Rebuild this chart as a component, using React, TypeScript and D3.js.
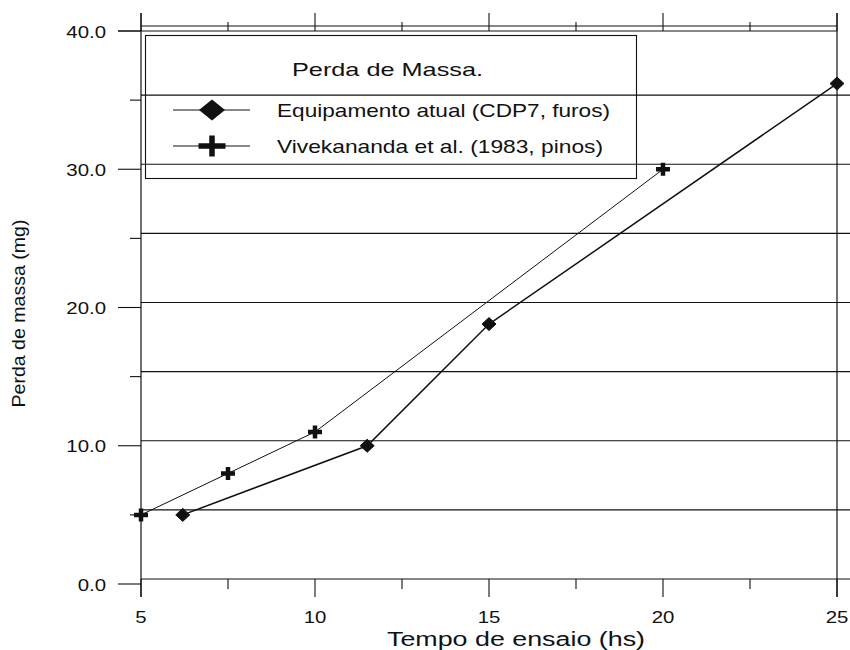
import React from "react";
import * as d3 from "d3";

// Perda de massa vs tempo de ensaio
const equipX = [6.2, 11.5, 15, 25];
const equipY = [5, 10, 18.8, 36.2];
const vivekX = [5, 7.5, 10, 20];
const vivekY = [5, 8, 11, 30];

const xMajor = [5, 10, 15, 20, 25];
const xMinor = [7.5, 12.5, 17.5, 22.5];
const yMajor = [0, 10, 20, 30, 40];
const yMinor = [5, 15, 25, 35];
const gridVals = [0, 5, 10, 15, 20, 25, 30, 35, 40];

const legendTitle = "Perda de Massa.";
const seriesNames = ["Equipamento atual (CDP7, furos)", "Vivekananda et al. (1983, pinos)"];
const xTitle = "Tempo de ensaio (hs)";
const yTitle = "Perda de massa (mg)";

const FONT = "'Liberation Sans', Arial, Helvetica, sans-serif";
const INK = "#111";

const diamond = (w: number, h: number) =>
  `M0,${-h / 2}L${w / 2},0L0,${h / 2}L${-w / 2},0Z`;
const plus = (w: number, h: number, t: number) =>
  `M${-t / 2},${-h / 2}H${t / 2}V${-t / 2}H${w / 2}V${t / 2}H${t / 2}V${h / 2}H${-t / 2}V${t / 2}H${-w / 2}V${-t / 2}H${-t / 2}Z`;

const App = () => {
  const svgRef = React.useRef<SVGSVGElement>(null);

  React.useEffect(() => {
    const x = d3.scaleLinear().domain([5, 25]).range([141, 837]);
    const y = d3.scaleLinear().domain([0, 40]).range([584, 31]);
    const gy = (v: number) => y(v) - 5; // grid sits a little above the tick marks
    const top = 13;
    const bottom = 597;

    const svg = d3.select(svgRef.current);
    svg.selectAll("*").remove();
    const g = svg.append("g");

    // horizontal grid lines
    g.selectAll(".grid")
      .data(gridVals)
      .enter()
      .append("line")
      .attr("x1", x(5))
      .attr("x2", (d) => (d === 40 ? x(25) : 850))
      .attr("y1", (d) => gy(d))
      .attr("y2", (d) => gy(d))
      .attr("stroke", INK)
      .attr("stroke-width", 1.1);

    // top axis line at 40
    g.append("line")
      .attr("x1", 118).attr("x2", x(25))
      .attr("y1", y(40)).attr("y2", y(40))
      .attr("stroke", INK).attr("stroke-width", 1.1);

    // vertical frame
    [5, 25].forEach((v) => {
      g.append("line")
        .attr("x1", x(v)).attr("x2", x(v))
        .attr("y1", top).attr("y2", bottom)
        .attr("stroke", INK).attr("stroke-width", 1.2);
    });

    // y ticks
    g.selectAll(".ytM").data(yMajor).enter().append("line")
      .attr("x1", x(5) - 23).attr("x2", x(5))
      .attr("y1", (d) => y(d)).attr("y2", (d) => y(d))
      .attr("stroke", INK).attr("stroke-width", 1.1);
    g.selectAll(".ytm").data(yMinor).enter().append("line")
      .attr("x1", x(5) - 11).attr("x2", x(5))
      .attr("y1", (d) => y(d)).attr("y2", (d) => y(d))
      .attr("stroke", INK).attr("stroke-width", 1.1);

    // x ticks, bottom and top
    const base = gy(0);
    g.selectAll(".xtM").data(xMajor).enter().append("line")
      .attr("x1", (d) => x(d)).attr("x2", (d) => x(d))
      .attr("y1", base).attr("y2", base + 18)
      .attr("stroke", INK).attr("stroke-width", 1.1);
    g.selectAll(".xtm").data(xMinor).enter().append("line")
      .attr("x1", (d) => x(d)).attr("x2", (d) => x(d))
      .attr("y1", base).attr("y2", base + 10)
      .attr("stroke", INK).attr("stroke-width", 1.1);
    g.selectAll(".xtMt").data(xMajor).enter().append("line")
      .attr("x1", (d) => x(d)).attr("x2", (d) => x(d))
      .attr("y1", y(40)).attr("y2", y(40) - 18)
      .attr("stroke", INK).attr("stroke-width", 1.1);
    g.selectAll(".xtmt").data(xMinor).enter().append("line")
      .attr("x1", (d) => x(d)).attr("x2", (d) => x(d))
      .attr("y1", y(40)).attr("y2", y(40) - 9)
      .attr("stroke", INK).attr("stroke-width", 1.1);

    // tick labels
    g.selectAll(".yl").data(yMajor).enter().append("text")
      .attr("transform", (d) => `translate(106,${y(d) + 6.5}) scale(1.2,1)`)
      .attr("text-anchor", "end")
      .attr("font-family", FONT).attr("font-size", 17).attr("fill", INK)
      .text((d) => d.toFixed(1));
    g.selectAll(".xl").data(xMajor).enter().append("text")
      .attr("transform", (d) => `translate(${x(d)},${base + 44}) scale(1.2,1)`)
      .attr("text-anchor", "middle")
      .attr("font-family", FONT).attr("font-size", 17).attr("fill", INK)
      .text((d) => String(d));

    // axis titles
    g.append("text")
      .attr("x", 387).attr("y", 646)
      .attr("textLength", 258).attr("lengthAdjust", "spacingAndGlyphs")
      .attr("font-family", FONT).attr("font-size", 20).attr("fill", INK)
      .text(xTitle);
    g.append("text")
      .attr("transform", `translate(25,${(y(0) + y(40)) / 2 + 6}) rotate(-90)`)
      .attr("text-anchor", "middle")
      .attr("textLength", 188).attr("lengthAdjust", "spacingAndGlyphs")
      .attr("font-family", FONT).attr("font-size", 18).attr("fill", INK)
      .text(yTitle);

    // series lines
    const line = d3.line<[number, number]>().x((d) => x(d[0])).y((d) => y(d[1]));
    const vivek = vivekX.map((v, i) => [v, vivekY[i]] as [number, number]);
    const equip = equipX.map((v, i) => [v, equipY[i]] as [number, number]);
    g.append("path").attr("d", line(vivek)).attr("fill", "none")
      .attr("stroke", INK).attr("stroke-width", 1);
    g.append("path").attr("d", line(equip)).attr("fill", "none")
      .attr("stroke", INK).attr("stroke-width", 1.5);

    // markers
    g.selectAll(".mp").data(vivek).enter().append("path")
      .attr("transform", (d) => `translate(${x(d[0])},${y(d[1])})`)
      .attr("d", plus(14, 13, 4.5)).attr("fill", INK);
    g.selectAll(".md").data(equip).enter().append("path")
      .attr("transform", (d) => `translate(${x(d[0])},${y(d[1])})`)
      .attr("d", diamond(14, 13)).attr("fill", INK)
      .attr("stroke", INK).attr("stroke-width", 1).attr("stroke-linejoin", "round");

    // legend
    g.append("rect")
      .attr("x", 145.5).attr("y", 35.5).attr("width", 491).attr("height", 143)
      .attr("fill", "none").attr("stroke", INK).attr("stroke-width", 1.1);
    g.append("text")
      .attr("x", 292).attr("y", 76)
      .attr("textLength", 191).attr("lengthAdjust", "spacingAndGlyphs")
      .attr("font-family", FONT).attr("font-size", 19).attr("fill", INK)
      .text(legendTitle);
    const rows = [110, 146];
    const lens = [333, 326];
    rows.forEach((ry, i) => {
      g.append("line").attr("x1", 173).attr("x2", 250)
        .attr("y1", ry).attr("y2", ry)
        .attr("stroke", INK).attr("stroke-width", 1);
      g.append("path")
        .attr("transform", `translate(212,${ry})`)
        .attr("d", i === 0 ? diamond(26, 21) : plus(27, 21, 5.5))
        .attr("fill", INK);
      g.append("text")
        .attr("x", 277).attr("y", ry + 7)
        .attr("textLength", lens[i]).attr("lengthAdjust", "spacingAndGlyphs")
        .attr("font-family", FONT).attr("font-size", 19).attr("fill", INK)
        .text(seriesNames[i]);
    });
  }, []);

  return (
    <svg
      ref={svgRef}
      width={850}
      height={650}
      style={{ position: "absolute", left: 0, top: 0, background: "#fff" }}
    />
  );
};

export default App;
